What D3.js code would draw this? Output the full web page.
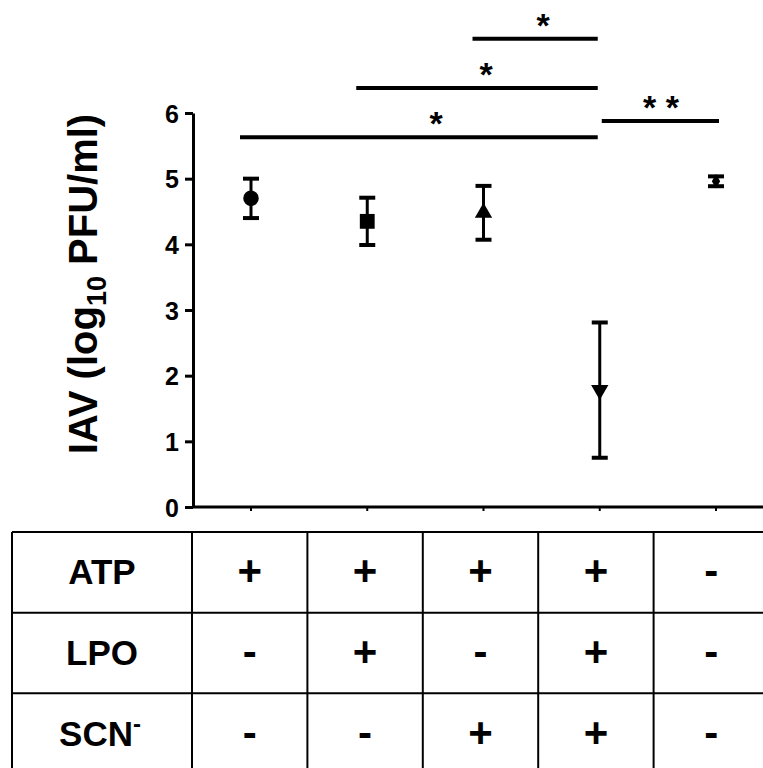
<!DOCTYPE html>
<html>
<head>
<meta charset="utf-8">
<script src="https://cdn.jsdelivr.net/npm/d3@7"></script>
<style>
  html, body { margin: 0; padding: 0; background: #fff; }
  svg { display: block; font-family: "Liberation Sans", Arial, sans-serif; font-weight: bold; }
</style>
</head>
<body>
<div id="chart"></div>
<script>
// groups, in plotting order
const groups = ['g1', 'g2', 'g3', 'g4', 'g5'];
const means = [4.70, 4.35, 4.48, 1.78, 4.96];
const errors = [0.30, 0.36, 0.41, 1.03, 0.075];
const markers = ['circle', 'square', 'triangle', 'triangleDown', 'diamond'];

// significance comparisons: [from index, to index, bar height (log units), label]
const comparisons = [
  [0, 3, 5.63, '*'],
  [1, 3, 6.38, '*'],
  [2, 3, 7.13, '*'],
  [3, 4, 5.88, '* *']
];

const yTicks = [0, 1, 2, 3, 4, 5, 6];

// treatment table
const rowLabels = ['ATP', 'LPO', 'SCN'];
const atp = ['+', '+', '+', '+', '-'];
const lpo = ['-', '+', '-', '+', '-'];
const scn = ['-', '-', '+', '+', '-'];

const width = 763;
const height = 768;

const svg = d3.select('#chart')
  .append('svg')
  .attr('width', width)
  .attr('height', height);

const x = d3.scalePoint().domain(groups).range([251, 716]);
const y = d3.scaleLinear().domain([0, 6]).range([507, 113]);

// y axis
const yAxis = svg.append('g')
  .attr('transform', 'translate(193,0)')
  .call(d3.axisLeft(y).tickValues(yTicks).tickFormat(d3.format('d'))
    .tickSize(8).tickSizeOuter(0).tickPadding(6));
yAxis.attr('font-size', null).attr('font-family', null);
yAxis.select('.domain').attr('stroke', '#000').attr('stroke-width', 3);
yAxis.selectAll('.tick line').attr('stroke', '#000').attr('stroke-width', 3);
yAxis.selectAll('.tick text')
  .attr('fill', '#000')
  .attr('dy', '0.36em')
  .style('font-size', '25px')
  .style('font-weight', 'bold');

// x axis (no labels, small ticks)
const xAxis = svg.append('g')
  .attr('transform', 'translate(0,507)');
xAxis.append('line')
  .attr('x1', 192).attr('x2', width)
  .attr('stroke', '#000').attr('stroke-width', 3);
xAxis.selectAll('line.tk')
  .data(groups)
  .join('line')
  .attr('class', 'tk')
  .attr('x1', d => x(d)).attr('x2', d => x(d))
  .attr('y1', 0).attr('y2', 4)
  .attr('stroke', '#000').attr('stroke-width', 2);

// y axis title
const title = svg.append('text')
  .attr('transform', 'translate(97,284) rotate(-90)')
  .attr('text-anchor', 'middle')
  .style('font-size', '40px');
title.append('tspan').text('IAV (log');
title.append('tspan').attr('dy', 9).style('font-size', '27px').text('10');
title.append('tspan').attr('dy', -9).text(' PFU/ml)');

// error bars
const eb = svg.append('g').attr('class', 'errorbars');
groups.forEach((g, i) => {
  const cx = x(g);
  const top = y(means[i] + errors[i]);
  const bot = y(means[i] - errors[i]);
  eb.append('line')
    .attr('x1', cx).attr('x2', cx).attr('y1', top).attr('y2', bot)
    .attr('stroke', '#000').attr('stroke-width', 3);
  [top, bot].forEach(v => {
    eb.append('line')
      .attr('x1', cx - 8).attr('x2', cx + 8).attr('y1', v).attr('y2', v)
      .attr('stroke', '#000').attr('stroke-width', 4);
  });
});

// markers
const symbolFor = {
  circle: d3.symbolCircle,
  square: d3.symbolSquare,
  triangle: d3.symbolTriangle,
  triangleDown: d3.symbolTriangle,
  diamond: d3.symbolDiamond
};
const sizeFor = { circle: 190, square: 220, triangle: 130, triangleDown: 130, diamond: 60 };
svg.append('g').attr('class', 'points')
  .selectAll('path')
  .data(groups)
  .join('path')
  .attr('d', (d, i) => d3.symbol().type(symbolFor[markers[i]]).size(sizeFor[markers[i]])())
  .attr('transform', (d, i) => {
    const rot = markers[i] === 'triangleDown' ? ' rotate(180)' : '';
    return `translate(${x(d)},${y(means[i])})${rot}`;
  })
  .attr('fill', '#000');

// significance bars
const sig = svg.append('g').attr('class', 'sig');
comparisons.forEach(([a, b, h, label], k) => {
  const last = a === 3;
  const x1 = last ? x(groups[a]) + 2 : x(groups[a]) - 11;
  const x2 = last ? x(groups[b]) + 3 : x(groups[b]) - 2;
  sig.append('line')
    .attr('x1', x1).attr('x2', x2).attr('y1', y(h)).attr('y2', y(h))
    .attr('stroke', '#000').attr('stroke-width', 4);
  const lx = [436, 486, 543, 661][k];
  sig.append('text')
    .attr('x', lx)
    .attr('y', y(h) - 2)
    .attr('text-anchor', 'middle')
    .style('font-size', '34px')
    .text(label);
});

// table
const table = svg.append('g').attr('class', 'table');
const col = d3.scaleBand().domain(groups).range([192, 769]);
const rowY = d3.scaleBand().domain(rowLabels).range([532, 774]);
const rows = [atp, lpo, scn];

// grid lines
const gridX = [12, ...groups.map(g => col(g)), 769];
gridX.forEach(gx => {
  table.append('line')
    .attr('x1', gx).attr('x2', gx).attr('y1', 532).attr('y2', height + 5)
    .attr('stroke', '#000').attr('stroke-width', 2);
});
[...rowLabels.map(r => rowY(r)), 774].forEach(gy => {
  table.append('line')
    .attr('x1', 12).attr('x2', width + 5).attr('y1', gy).attr('y2', gy)
    .attr('stroke', '#000').attr('stroke-width', 2);
});

// row headers
rowLabels.forEach((r, i) => {
  const cy = rowY(r) + rowY.bandwidth() / 2;
  const t = table.append('text')
    .attr('x', i === 2 ? 100 : 102)
    .attr('y', cy + 12)
    .attr('text-anchor', 'middle')
    .style('font-size', '35px')
    .text(r);
  if (i === 2) {
    t.append('tspan').attr('dy', -14).style('font-size', '24px').text('-');
  }
});

// signs
rows.forEach((vals, i) => {
  const cy = rowY(rowLabels[i]) + rowY.bandwidth() / 2;
  table.selectAll(null)
    .data(vals)
    .join('text')
    .attr('x', (d, j) => col(groups[j]) + col.bandwidth() / 2)
    .attr('y', cy + 13)
    .attr('text-anchor', 'middle')
    .style('font-size', '42px')
    .text(d => d);
});
</script>
</body>
</html>
